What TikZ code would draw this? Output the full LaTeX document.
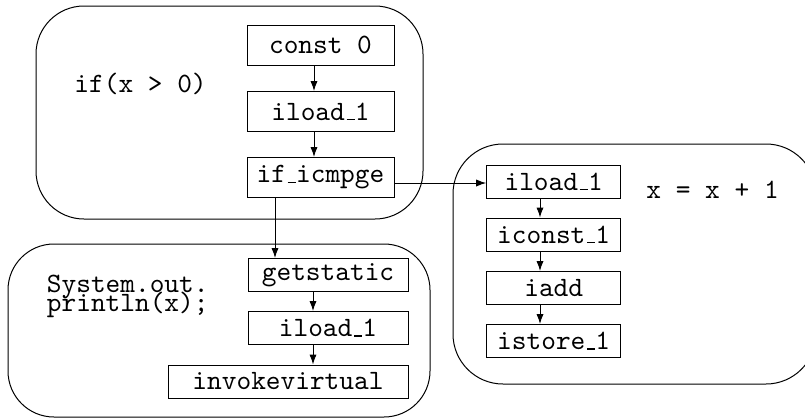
\documentclass[tikz,border=0pt]{standalone}
\usepackage{graphicx}
\usetikzlibrary{arrows.meta}
\newcommand\usc{\leavevmode\kern.06em\vbox{\hrule height .5pt width .3em}}
\newcommand\T[1]{\scalebox{1.4}{#1}}
\begin{document}
\begin{tikzpicture}[x=0.5pt,y=-0.5pt,
  every node/.style={font=\fontsize{10}{10}\selectfont\ttfamily},
  op/.style={draw,line width=0.5pt,inner sep=0pt,minimum width=#1},
  opt/.style={op=#1,minimum height=20pt},
  opb/.style={op=#1,minimum height=16.5pt},
  grp/.style={draw,line width=0.5pt,rounded corners=24pt},
  arr/.style={-{Latex[length=5pt,width=3.6pt]},line width=0.5pt},
  lbl/.style={anchor=base west,inner sep=0pt}]
\useasboundingbox (0,0) rectangle (805,418);
% groups
\draw[grp] (36,6) rectangle (423,219);
\draw[grp,rounded corners=23pt] (8,244) rectangle (430,417);
\draw[grp,rounded corners=25pt] (453,144) rectangle (816,384);
% top group
\node[opt=73.5pt] (c0) at (320.5,45) {\T{const 0}};
\node[opt=73.5pt] (il1) at (320.5,111.5) {\T{iload\usc 1}};
\node[opt=73.5pt] (ific) at (320.5,177.5) {\T{if\usc icmpge}};
\node[lbl] (lif) at (74,92) {\T{if(x > 0)}};
% bottom group
\node[opb=80pt] (gs) at (328,275) {\T{getstatic}};
\node[opb=80pt] (il2) at (328,328) {\T{iload\usc 1}};
\node[opb=120pt] (inv) at (288,381.5) {\T{invokevirtual}};
\node[lbl] (ls1) at (46.5,292.5) {\T{System.out.}};
\node[lbl] (ls2) at (46.5,311.5) {\T{println(x);}};
% right group
\node[opb=67pt] (r1) at (553.7,181.5) {\T{iload\usc 1}};
\node[opb=67pt] (r2) at (553.7,234.5) {\T{iconst\usc 1}};
\node[opb=67pt] (r3) at (553.7,288) {\T{iadd}};
\node[opb=67pt] (r4) at (553.7,341) {\T{istore\usc 1}};
\node[lbl] (lx) at (646,198) {\T{x = x + 1}};
% columns
\coordinate (colA) at (314,0);
\coordinate (colB) at (313,0);
\coordinate (colC) at (540,0);
\coordinate (colD) at (275,0);
\coordinate (rowE) at (0,183);
% connectors
\draw[arr] (c0.south -| colA) -- (il1.north -| colA);
\draw[arr] (il1.south -| colA) -- (ific.north -| colA);
\draw[arr] (gs.south -| colB) -- (il2.north -| colB);
\draw[arr] (il2.south -| colB) -- (inv.north -| colB);
\draw[arr] (r1.south -| colC) -- (r2.north -| colC);
\draw[arr] (r2.south -| colC) -- (r3.north -| colC);
\draw[arr] (r3.south -| colC) -- (r4.north -| colC);
\draw[arr] (ific.south -| colD) -- (gs.north -| colD);
\draw[arr] (ific.east |- rowE) -- (r1.west |- rowE);
\end{tikzpicture}
\end{document}
